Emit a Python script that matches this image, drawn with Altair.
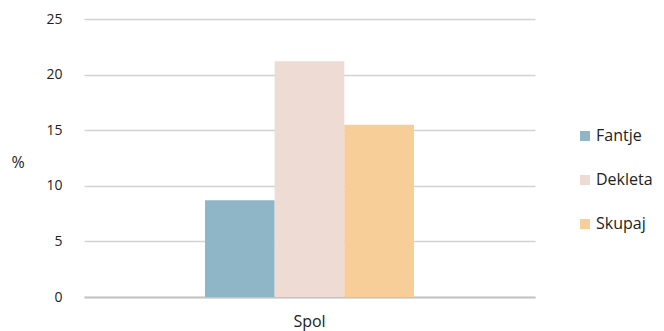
import altair as alt
import pandas as pd

categories = ["Spol"]
series = ["Fantje", "Dekleta", "Skupaj"]
values = [8.7, 21.2, 15.5]
colors = ["#8FB6C6", "#EEDBD3", "#F7CD98"]
y_ticks = [0, 5, 10, 15, 20, 25]

df = pd.DataFrame({
    "cat": [categories[0]] * len(series),
    "series": series,
    "value": values,
})

FONT = "Open Sans"

bars = alt.Chart(df).mark_bar().encode(
    x=alt.X("cat:N", title=None,
            scale=alt.Scale(paddingInner=0, paddingOuter=0.579),
            axis=alt.Axis(labelAngle=0, labelFont=FONT, labelFontSize=16,
                          labelColor="#222222", labelPadding=16, ticks=False,
                          domain=True, domainColor="#c4c4c4", domainWidth=2,
                          grid=False)),
    xOffset=alt.XOffset("series:N", sort=series,
                        scale=alt.Scale(paddingInner=0, paddingOuter=0)),
    y=alt.Y("value:Q", title="%",
            scale=alt.Scale(domain=[0, 25], nice=False),
            axis=alt.Axis(values=y_ticks, labelFont=FONT, labelFontSize=14,
                          labelColor="#222222", labelPadding=22, ticks=False,
                          domain=False, grid=True, gridColor="#d2d2d2",
                          gridWidth=1.5, titleAngle=0, titleFont=FONT,
                          titleFontSize=16, titleFontWeight="normal",
                          titleColor="#222222", titleX=-73, titleY=143,
                          titleAlign="left", titleBaseline="middle")),
    color=alt.Color("series:N", sort=series,
                    scale=alt.Scale(domain=series, range=colors),
                    legend=alt.Legend(title=None, orient="none", legendX=493,
                                      legendY=109, symbolType="square",
                                      symbolSize=100, symbolStrokeWidth=0,
                                      labelFont=FONT, labelFontSize=16,
                                      labelColor="#222222", rowPadding=28,
                                      labelOffset=3, padding=0)),
)

chart = bars.properties(
    width=451, height=278,
    autosize=alt.AutoSizeParams(type="none"),
    padding={"left": 76, "top": 11, "right": 121, "bottom": 34},
).configure_view(stroke=None)

chart.save("out.html", embed_options={"renderer": "svg", "actions": False})
